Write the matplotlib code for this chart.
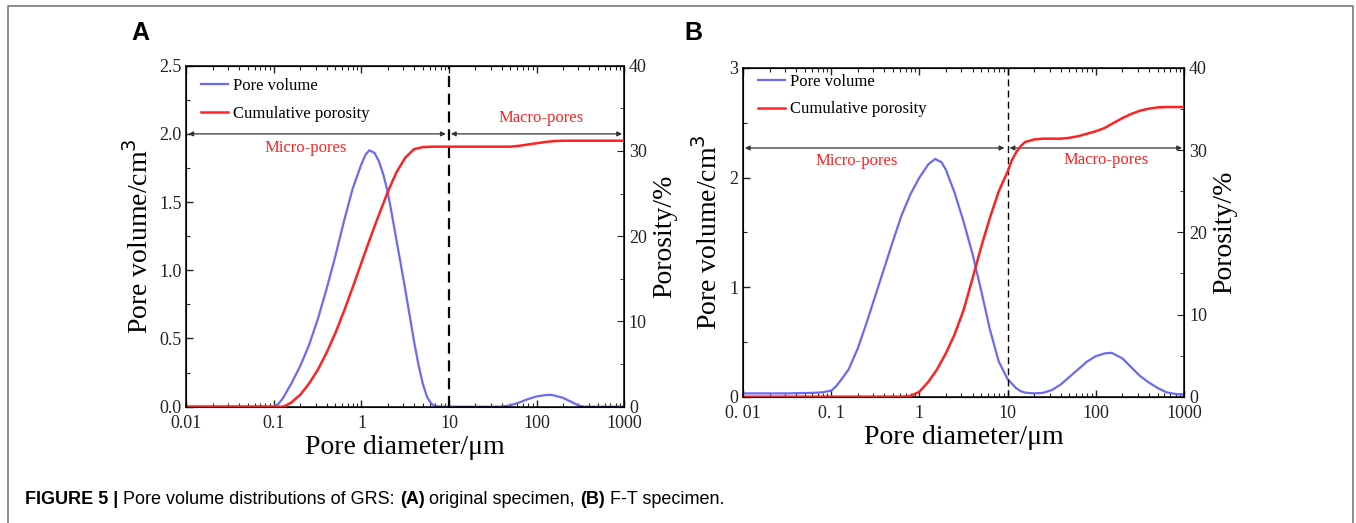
import matplotlib
matplotlib.use("Agg")
import matplotlib.pyplot as plt
from matplotlib.ticker import MultipleLocator, LogLocator, FixedLocator, FixedFormatter, NullFormatter
from matplotlib.lines import Line2D

plt.rcParams['font.family'] = ['Liberation Serif', 'DejaVu Serif']

# panel A (original specimen)
a_vol_x = [0.01, 0.05, 0.1, 0.112, 0.126, 0.158, 0.2, 0.251, 0.316, 0.398, 0.501, 0.631, 0.794, 1.0, 1.12, 1.23,
           1.41, 1.58, 1.78, 2.0, 2.24, 2.51, 2.82, 3.16, 3.55, 3.98, 4.47, 5.01, 5.62, 6.31, 7.08, 7.94,
           39.8, 50.1, 63.1, 79.4, 100, 126, 141, 158, 200, 251, 282, 316, 355, 1000]
a_vol_y = [0, 0, 0, 0.02, 0.06, 0.17, 0.30, 0.45, 0.64, 0.86, 1.10, 1.36, 1.60, 1.78, 1.85, 1.88,
           1.86, 1.80, 1.70, 1.57, 1.40, 1.22, 1.04, 0.86, 0.67, 0.48, 0.31, 0.17, 0.07, 0.02, 0.005, 0,
           0, 0.01, 0.03, 0.055, 0.075, 0.085, 0.087, 0.083, 0.065, 0.035, 0.018, 0.005, 0, 0]
a_por_x = [0.01, 0.126, 0.141, 0.158, 0.2, 0.251, 0.316, 0.398, 0.501, 0.631, 0.794, 1.0, 1.26, 1.58, 2.0, 2.51,
           3.16, 3.98, 5.01, 6.31, 10, 50.1, 63.1, 79.4, 100, 126, 158, 200, 1000]
a_por_y = [0, 0, 0.2, 0.5, 1.4, 2.7, 4.3, 6.3, 8.6, 11.2, 14.0, 16.9, 19.8, 22.5, 25.2, 27.5,
           29.2, 30.2, 30.45, 30.5, 30.5, 30.5, 30.6, 30.75, 30.9, 31.05, 31.15, 31.2, 31.2]

# panel B (F-T specimen)
b_vol_x = [0.01, 0.0316, 0.063, 0.079, 0.1, 0.112, 0.126, 0.158, 0.2, 0.251, 0.316, 0.398, 0.501, 0.631, 0.794,
           1.0, 1.26, 1.51, 1.78, 2.0, 2.51, 3.16, 3.98, 5.01, 6.31, 7.94, 10, 12.6, 14.1, 15.8, 20, 25.1,
           31.6, 39.8, 50.1, 63.1, 79.4, 100, 126, 151, 200, 251, 316, 398, 501, 631, 794, 1000]
b_vol_y = [0.03, 0.03, 0.035, 0.04, 0.055, 0.09, 0.14, 0.25, 0.44, 0.67, 0.92, 1.17, 1.42, 1.66, 1.85,
           2.0, 2.12, 2.17, 2.14, 2.07, 1.86, 1.6, 1.31, 0.97, 0.61, 0.32, 0.16, 0.075, 0.05, 0.037, 0.03, 0.035,
           0.06, 0.11, 0.18, 0.25, 0.32, 0.37, 0.395, 0.4, 0.35, 0.27, 0.19, 0.13, 0.08, 0.04, 0.025, 0.02]
b_por_x = [0.01, 0.631, 0.794, 1.0, 1.26, 1.58, 2.0, 2.51, 3.16, 3.98, 5.01, 6.31, 7.94, 10, 11.2, 12.6, 14.1,
           15.8, 20, 25.1, 39.8, 50.1, 63.1, 79.4, 100, 126, 158, 200, 251, 316, 398, 501, 631, 1000]
b_por_y = [0, 0, 0.1, 0.6, 1.8, 3.3, 5.3, 7.6, 10.5, 14.3, 18.2, 21.8, 25.0, 27.4, 28.8, 29.8, 30.5,
           31.0, 31.3, 31.4, 31.4, 31.5, 31.7, 32.0, 32.3, 32.7, 33.3, 33.9, 34.4, 34.8, 35.05, 35.2, 35.25, 35.25]

tick_vals = [0.01, 0.1, 1, 10, 100, 1000]
a_tick_labels = ['0.01', '0.1', '1', '10', '100', '1000']
b_tick_labels = ['0. 01', '0. 1', '1', '10', '100', '1000']

blue = '#6a6af2'
red = '#ff2222'

fig = plt.figure(figsize=(13.56, 5.23), dpi=100)

# figure frame (open at the bottom)
fig.add_artist(Line2D([8/1356, 8/1356, 1353/1356, 1353/1356], [0, 1-6/523, 1-6/523, 0],
                      transform=fig.transFigure, color='#777777', lw=1.2))


def panel(rect, vx, vy, px, py, ymax, ymajor, yminor, ticklabels, arrow_y, micro_xy, macro_xy, dash_lw, leg_y):
    ax = fig.add_axes(rect)
    ax.plot(vx, vy, color=blue, lw=1.6)
    ax.set_xscale('log')
    ax.set_xlim(0.01, 1000)
    ax.set_ylim(0, ymax)
    ax.yaxis.set_major_locator(MultipleLocator(ymajor))
    ax.yaxis.set_minor_locator(MultipleLocator(yminor))
    ax.xaxis.set_major_locator(FixedLocator(tick_vals))
    ax.xaxis.set_major_formatter(FixedFormatter(ticklabels))
    ax.xaxis.set_minor_locator(LogLocator(base=10, subs=range(2, 10), numticks=20))
    ax.xaxis.set_minor_formatter(NullFormatter())
    ax.tick_params(which='both', direction='in', top=True, labelsize=13, colors='#222222')
    ax.tick_params(which='major', length=5, width=1)
    ax.tick_params(which='minor', length=3, width=0.8)
    ax.tick_params(axis='x', pad=6)
    ax.set_xlabel('Pore diameter/μm', fontsize=20, labelpad=2)
    ax.set_ylabel('Pore volume/cm$^3$', fontsize=20, labelpad=4)
    for s in ax.spines.values():
        s.set_linewidth(1.1)

    ax2 = ax.twinx()
    ax2.plot(px, py, color=red, lw=1.8)
    ax2.set_ylim(0, 40)
    ax2.yaxis.set_major_locator(MultipleLocator(10))
    ax2.yaxis.set_minor_locator(MultipleLocator(5))
    ax2.tick_params(which='both', direction='in', labelsize=13, colors='#222222')
    ax2.tick_params(which='major', length=5)
    ax2.tick_params(which='minor', length=3)
    ax2.set_ylabel('Porosity/%', fontsize=20, labelpad=4)

    ax.axvline(10, color='black', ls=(0, (5, 3)), lw=dash_lw, zorder=5)

    arr = dict(arrowstyle='<|-|>', color='#333333', lw=0.9, mutation_scale=7, shrinkA=0, shrinkB=0)
    ax.annotate('', xy=(9.2, arrow_y), xytext=(0.0105, arrow_y), arrowprops=arr)
    ax.annotate('', xy=(950, arrow_y), xytext=(10.5, arrow_y), arrowprops=arr)
    ax.text(micro_xy[0], micro_xy[1], 'Micro-pores', color=red, fontsize=12, ha='center', va='center')
    ax.text(macro_xy[0], macro_xy[1], 'Macro-pores', color=red, fontsize=12, ha='center', va='center')

    h1 = Line2D([], [], color=blue, lw=1.6)
    h2 = Line2D([], [], color=red, lw=1.8)
    ax.legend([h1, h2], ['Pore volume', 'Cumulative porosity'], loc='upper left', frameon=False,
              fontsize=12, handlelength=1.6, handletextpad=0.3, labelspacing=0.7,
              bbox_to_anchor=(0.0, leg_y))
    return ax


panel([0.1375, 0.2224, 0.3227, 0.652], a_vol_x, a_vol_y, a_por_x, a_por_y, 2.5, 0.5, 0.25,
      a_tick_labels, 2.0, (0.23, 1.90), (114, 2.12), 1.6, 1.008)
panel([0.5479, 0.2415, 0.3253, 0.6285], b_vol_x, b_vol_y, b_por_x, b_por_y, 3, 1, 0.5,
      b_tick_labels, 2.27, (0.195, 2.15), (130, 2.16), 1.0, 1.028)

fig.text(131/1356, 1-33/523, 'A', fontsize=18, fontweight='bold', family='Liberation Sans', va='center')
fig.text(684/1356, 1-33/523, 'B', fontsize=18, fontweight='bold', family='Liberation Sans', va='center')

# caption, pieces placed one after another
cap_parts = [('FIGURE 5 | ', 'bold'), ('Pore volume distributions of GRS: ', 'normal'), ('(A)', 'bold'),
             (' original specimen, ', 'normal'), ('(B)', 'bold'), (' F-T specimen.', 'normal')]
renderer = fig.canvas.get_renderer()
x = 25
for s, w in cap_parts:
    t = fig.text(x/1356, 1-500/523, s, fontsize=13, fontweight=w, family='Liberation Sans', va='center')
    x += t.get_window_extent(renderer).width

fig.savefig('out.png', dpi=100)
